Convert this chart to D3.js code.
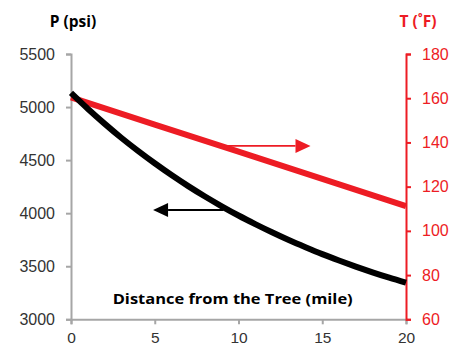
<!DOCTYPE html>
<html><head><meta charset="utf-8">
<script src="https://cdn.jsdelivr.net/npm/d3@7"></script>
<style>
html,body{margin:0;padding:0;background:#fff;}
svg{display:block;font-family:"Century Gothic","Open Sans",sans-serif;}
</style></head>
<body><svg id="c" width="452" height="347"></svg>
<script>
// Data
const distance = [0,1,2,3,4,5,6,7,8,9,10,11,12,13,14,15,16,17,18,19,20];
const pressure = [5133,4984,4844,4711,4587,4470,4359,4255,4157,4065,3978,3897,3820,3747,3679,3614,3554,3497,3443,3392,3345];
const tempDistance = [0,5,10,15,20];
const temperature = [160.4,148.1,135.8,123.5,111.2];
const xTicks = [0,5,10,15,20];
const pTicks = [3000,3500,4000,4500,5000,5500];
const tTicks = [60,80,100,120,140,160,180];
const labels = {p:"P (psi)", t:"T (˚F)", x:"Distance from the Tree (mile)"};
// annotation arrows (data coords)
const arrowT = {from:9.3, to:14.3, value:138.4};
const arrowP = {from:9.1, to:4.9, value:4030};

const RED = "#ED1C24", GRAY = "#A6A6A6";
const svg = d3.select("#c");
const x = d3.scaleLinear().domain([0,20]).range([71,406]);
const yP = d3.scaleLinear().domain([3000,5500]).range([319.3,54]);
const yT = d3.scaleLinear().domain([60,180]).range([319.3,54]);

// left axis
const gl = svg.append("g").attr("transform","translate(71,0)")
  .call(d3.axisLeft(yP).tickValues(pTicks).tickSize(5).tickPadding(11).tickFormat(d3.format("d")));
gl.select(".domain").attr("stroke",GRAY).attr("stroke-width",2);
gl.selectAll(".tick line").attr("stroke",GRAY).attr("stroke-width",2);
gl.selectAll(".tick text").attr("fill","#333").attr("font-size",16);

// bottom axis
const gb = svg.append("g").attr("transform","translate(0,319.3)")
  .call(d3.axisBottom(x).tickValues(xTicks).tickSize(5).tickPadding(7.5).tickFormat(d3.format("d")));
gb.select(".domain").attr("stroke",GRAY).attr("stroke-width",2);
gb.selectAll(".tick line").attr("stroke",GRAY).attr("stroke-width",2);
gb.selectAll(".tick text").attr("fill","#333").attr("font-size",15.5);

// right axis
const gr = svg.append("g").attr("transform","translate(406,0)")
  .call(d3.axisRight(yT).tickValues(tTicks).tickSize(5).tickPadding(11).tickFormat(d3.format("d")));
gr.select(".domain").attr("stroke",RED).attr("stroke-width",2);
gr.selectAll(".tick line").attr("stroke",RED).attr("stroke-width",2);
gr.selectAll(".tick text").attr("fill",RED).attr("font-size",16);

// titles
svg.append("text").attr("x",73).attr("y",27).attr("text-anchor","middle")
  .attr("font-weight","bold").attr("font-size",15.5).attr("fill","#000").text(labels.p);
svg.append("text").attr("x",418).attr("y",27).attr("text-anchor","middle")
  .attr("font-weight","bold").attr("font-size",15.5).attr("fill",RED).text(labels.t);
svg.append("text").attr("x",232.7).attr("y",304).attr("text-anchor","middle")
  .attr("font-weight","bold").attr("font-size",15).attr("fill","#000")
  .attr("textLength",240).attr("lengthAdjust","spacingAndGlyphs").text(labels.x);

// lines
const tData = tempDistance.map((d,i)=>[d,temperature[i]]);
const pData = distance.map((d,i)=>[d,pressure[i]]);
svg.append("path").datum(tData).attr("fill","none").attr("stroke",RED).attr("stroke-width",6)
  .attr("d",d3.line().x(d=>x(d[0])).y(d=>yT(d[1])));
svg.append("path").datum(pData).attr("fill","none").attr("stroke","#000").attr("stroke-width",6)
  .attr("d",d3.line().curve(d3.curveMonotoneX).x(d=>x(d[0])).y(d=>yP(d[1])));

// arrows
function arrow(x0,x1,yy,color){
  const dir = Math.sign(x1-x0);
  const head = 15, half = 7;
  svg.append("line").attr("x1",x0).attr("x2",x1-dir*head).attr("y1",yy).attr("y2",yy)
    .attr("stroke",color).attr("stroke-width",1.8);
  svg.append("path").attr("fill",color)
    .attr("d",`M${x1},${yy}L${x1-dir*head},${yy-half}L${x1-dir*head},${yy+half}Z`);
}
arrow(x(arrowT.from), x(arrowT.to), yT(arrowT.value), RED);
arrow(x(arrowP.from), x(arrowP.to), yP(arrowP.value), "#000");
</script></body></html>
